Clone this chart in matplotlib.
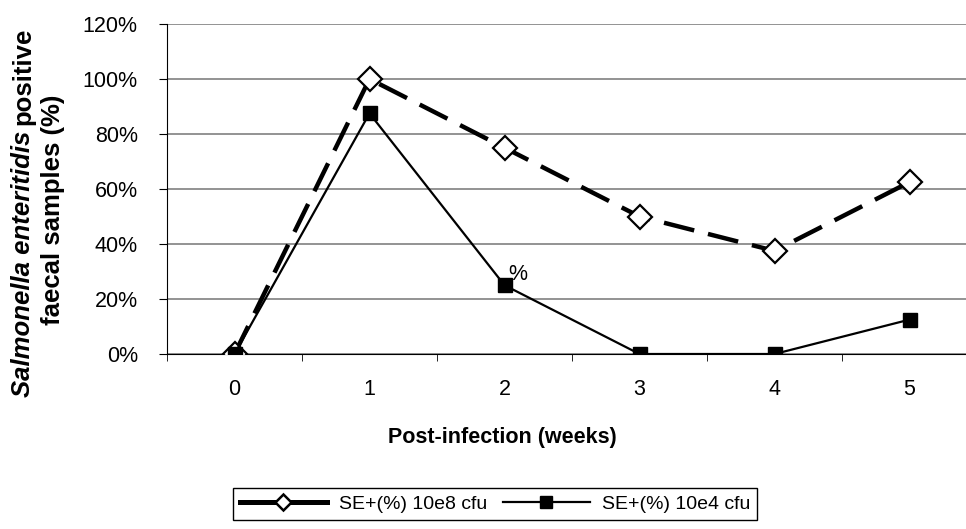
import matplotlib
matplotlib.use("Agg")
from matplotlib import pyplot as plt
from matplotlib.ticker import FixedLocator, PercentFormatter

plt.rcParams['font.family'] = ['Liberation Sans', 'DejaVu Sans']

weeks = [0, 1, 2, 3, 4, 5]
se_high = [0, 100, 75, 50, 37.5, 62.5]   # SE+(%) 10e8 cfu
se_low = [0, 87.5, 25, 0, 0, 12.5]      # SE+(%) 10e4 cfu
yticks = [0, 20, 40, 60, 80, 100, 120]

fig = plt.figure(figsize=(9.66, 5.29), dpi=100)
ax = fig.add_axes([167/966, 1-354/529, 810/966, 330/529])

ax.plot(weeks, se_high, color='black', lw=3.2, dashes=(7, 3.2),
        marker='D', markersize=12, markerfacecolor='white',
        markeredgecolor='black', markeredgewidth=1.6,
        label='SE+(%) 10e8 cfu', zorder=3)
ax.plot(weeks, se_low, color='black', lw=1.6,
        marker='s', markersize=9.5, markerfacecolor='black',
        markeredgecolor='black', label='SE+(%) 10e4 cfu', zorder=4)
ax.annotate('%', (weeks[2], se_low[2]), xytext=(3, 0),
            textcoords='offset points', fontsize=15.5, va='bottom', ha='left')

ax.set_xlim(-0.5, 5.5)
ax.set_ylim(0, 120)
ax.set_xticks(weeks)
ax.set_xticklabels([str(w) for w in weeks])
ax.xaxis.set_minor_locator(FixedLocator([w - 0.5 for w in weeks] + [5.5]))
ax.tick_params(axis='x', which='major', length=0, labelsize=15.5, pad=18)
ax.tick_params(axis='x', which='minor', length=5, direction='out')
ax.set_yticks(yticks)
ax.yaxis.set_major_formatter(PercentFormatter(decimals=0))
ax.tick_params(axis='y', length=6, direction='out', labelsize=15.5, pad=15)
ax.grid(axis='y', color='#808080', lw=1.2)
ax.set_axisbelow(True)
for s in ['top', 'right']:
    ax.spines[s].set_visible(False)
ax.spines['left'].set_color('black')
ax.spines['bottom'].set_color('black')

fig.text(502/966, 1-437/529, 'Post-infection (weeks)', fontsize=15.5,
         fontweight='bold', ha='center', va='center')

# two-line y label, first part italic
fig.canvas.draw()
r = fig.canvas.get_renderer()
t1 = fig.text(23/966, 1-397/529, 'Salmonella enteritidis', rotation=90,
              fontsize=18.5, fontweight='bold', fontstyle='italic',
              ha='center', va='bottom')
bb = t1.get_window_extent(r)
fig.text(23/966, (bb.y1 + 6)/529, 'positive', rotation=90,
         fontsize=18.5, fontweight='bold', ha='center', va='bottom')
fig.text(53/966, 1-210/529, 'faecal samples (%)', rotation=90,
         fontsize=18.5, fontweight='bold', ha='center', va='center')

leg = fig.legend(loc='center', bbox_to_anchor=(495/966, 1-504/529), ncol=2,
                 fontsize=14, frameon=True, fancybox=False, edgecolor='black',
                 framealpha=1, handlelength=4.5, columnspacing=0.8,
                 handletextpad=0.6, borderpad=0.35)
leg.get_frame().set_linewidth(1.0)
h1, h2 = leg.legend_handles
h1.set_linestyle('-')
h1.set_linewidth(3.6)
h1.set_markersize(8)
h1.set_markeredgewidth(1.8)
h2.set_markersize(8.5)

fig.savefig('out.png', dpi=100)
